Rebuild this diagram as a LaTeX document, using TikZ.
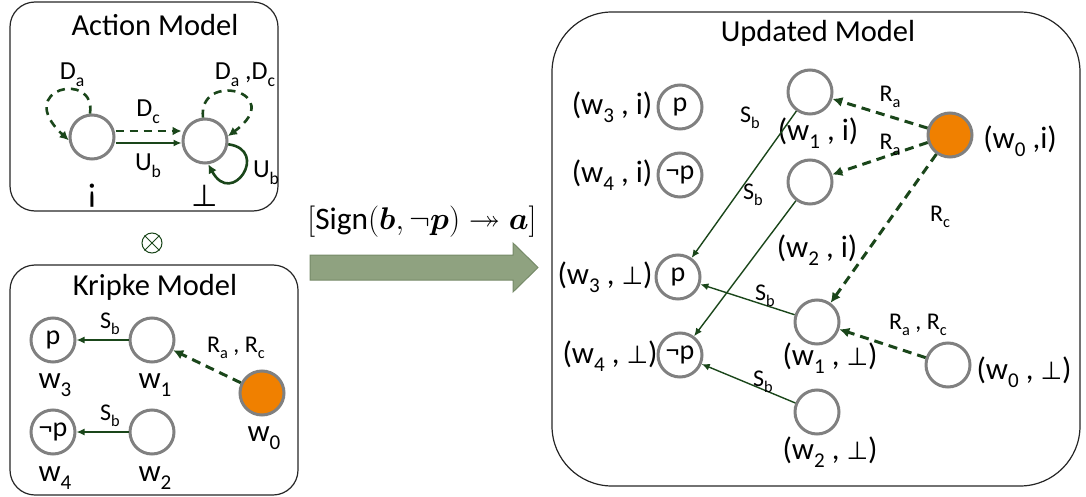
\documentclass[tikz,border=0pt]{standalone}
\usepackage{fontspec}
\setmainfont{Carlito}
\newfontfamily\symfont{DejaVu Sans}
\usepackage{amssymb,bm}
\usetikzlibrary{arrows.meta}

\definecolor{edgegreen}{RGB}{26,70,26}
\definecolor{ringgray}{RGB}{128,128,128}
\definecolor{worldorange}{RGB}{240,128,0}
\definecolor{arrowfill}{RGB}{143,162,128}
\definecolor{arrowline}{RGB}{118,138,104}

% lowered, shrunk index as used in the world names
\newcommand\sub[1]{\raisebox{-0.27em}{\scalebox{0.68}{#1}}}
% falsum sign for the second action point
\newcommand\fls{{\symfont\fontsize{0.8em}{1em}\selectfont ⊥}}

\tikzset{
  world/.style={circle, draw=ringgray, line width=3pt, minimum size=44pt, inner sep=0pt,
                font=\fontsize{28}{28}\selectfont},
  actual/.style={world, fill=worldorange},
  lbl/.style={font=\fontsize{31}{31}\selectfont, inner sep=1pt},
  elbl/.style={font=\fontsize{24}{24}\selectfont, inner sep=1pt},
  albl/.style={font=\fontsize{26}{26}\selectfont, inner sep=1pt},
  title/.style={font=\fontsize{30.5}{30.5}\selectfont, inner sep=1pt},
  panel/.style={draw=black!85, line width=1.2pt},
  rel/.style={draw=edgegreen, line width=1.4pt, -{Latex[length=8pt,width=7pt]}},
  drel/.style={draw=edgegreen, line width=3pt, dash pattern=on 9pt off 6pt,
               -{Latex[length=10pt,width=10pt]}},
  dloop/.style={draw=edgegreen, line width=2.6pt, dash pattern=on 8pt off 6pt,
               -{Latex[length=9pt,width=9pt]}},
  sloop/.style={draw=edgegreen, line width=2.6pt, -{Latex[length=9pt,width=9pt]}},
}

\begin{document}
\begin{tikzpicture}[x=1pt,y=-1pt]
\useasboundingbox (0,0) rectangle (1086,497);

% ---------------- panels ----------------
\draw[panel, rounded corners=25pt] (10,2) rectangle (278,211);
\draw[panel, rounded corners=25pt] (10,265) rectangle (298,495);
\draw[panel, rounded corners=60pt] (552,12) rectangle (1080,486);

% ---------------- action model ----------------
\node[title] (tact) at (155,25) {Action Model};
\node[world] (ai) at (92,137) {};
\node[world] (ab) at (205,141) {};
\node[font=\fontsize{36}{36}\selectfont] (lai) at (92,196) {¡};
\node[font=\fontsize{38}{38}\selectfont] (lab) at (205,196) {\fls};

\draw[dloop] (ai.95) .. controls (97,70) and (12,88) .. (ai.188);
\node[albl] (lda) at (72,75) {D\sub{a}};
\draw[dloop] (ab.95) .. controls (198,70) and (288,92) .. (ab.12);
\node[albl] (ldadc) at (245,75) {D\sub{a} ,D\sub{c}};
\draw[sloop] (ab.-8) .. controls (270,150) and (232,208) .. (ab.-82);
\node[albl] (lub2) at (266,173) {U\sub{b}};

\draw[dloop] (ai.east |- 0,131) -- (ab.west |- 0,131);
\draw[rel] (ai.east |- 0,143) -- (ab.west |- 0,143);
\node[albl] (ldc) at (148,112) {D\sub{c}};
\node[albl] (lub) at (148,166) {U\sub{b}};

% ---------------- product sign ----------------
\node[circle, draw=edgegreen, line width=1pt, minimum size=20pt, inner sep=0pt] (ox) at (152,243) {};
\draw[edgegreen, line width=1pt] (ox.north west) -- (ox.south east);
\draw[edgegreen, line width=1pt] (ox.north east) -- (ox.south west);

% ---------------- kripke model ----------------
\node[title] (tkr) at (155,287) {Kripke Model};
\node[world] (k3) at (53,340) {p};
\node[world] (k1) at (152,340) {};
\node[actual] (k0) at (262,393) {};
\node[world] (k4) at (53,432) {¬p};
\node[world] (k2) at (152,432) {};
\node[lbl] (lk3) at (55,385) {w\sub{3}};
\node[lbl] (lk1) at (155,385) {w\sub{1}};
\node[lbl] (lk0) at (264,438) {w\sub{0}};
\node[lbl] (lk4) at (55,478) {w\sub{4}};
\node[lbl] (lk2) at (155,478) {w\sub{2}};

\draw[rel] (k1) -- (k3);
\node[elbl] (ls1) at (110,324) {S\sub{b}};
\draw[rel] (k2) -- (k4);
\node[elbl] (ls2) at (110,416) {S\sub{b}};
\draw[drel] (k0) -- (k1);
\node[elbl] (lrac) at (236,348) {R\sub{a} , R\sub{c}};

% ---------------- update arrow ----------------
\node[font=\fontsize{24.88}{25}\selectfont] (upd) at (422,222)
  {\scalebox{1.26}{$[\mathrm{Sign}(\bm{b},\neg\bm{p})\twoheadrightarrow\bm{a}]$}};
\draw[fill=arrowfill, draw=arrowline, line width=1pt]
  (310,255) -- (513,255) -- (513,243) -- (538,267.5) -- (513,292) -- (513,280) -- (310,280) -- cycle;

% ---------------- updated model ----------------
\node[title] (tup) at (818,33) {Updated Model};

\node[world] (u3i) at (680,107) {p};
\node[world] (u4i) at (680,175) {¬p};
\node[world] (u1i) at (810,92) {};
\node[world] (u2i) at (810,182) {};
\node[actual] (u0i) at (950,135) {};
\node[world] (u3b) at (678,277) {p};
\node[world] (u4b) at (680,355) {¬p};
\node[world] (u1b) at (817,322) {};
\node[world] (u2b) at (817,412) {};
\node[world] (u0b) at (948,365) {};

\node[lbl] (lu3i) at (612,107) {(w\sub{3} , i)};
\node[lbl] (lu4i) at (612,175) {(w\sub{4} , i)};
\node[lbl] (lu1i) at (818,133) {(w\sub{1} , i)};
\node[lbl] (lu2i) at (817,250) {(w\sub{2} , i)};
\node[lbl] (lu0i) at (1020,141) {(w\sub{0} ,i)};
\node[lbl] (lu3b) at (605,277) {(w\sub{3} , \fls)};
\node[lbl] (lu4b) at (610,356) {(w\sub{4} , \fls)};
\node[lbl] (lu1b) at (830,358) {(w\sub{1} , \fls)};
\node[lbl] (lu2b) at (830,452) {(w\sub{2} , \fls)};
\node[lbl] (lu0b) at (1024,372) {(w\sub{0} , \fls)};

\draw[rel] (u1i) -- (u3b);
\node[elbl] (lsa) at (750,118) {S\sub{b}};
\draw[rel] (u2i) -- (u4b);
\node[elbl] (lsb) at (753,195) {S\sub{b}};
\draw[rel] (u1b) -- (u3b);
\node[elbl] (lsc) at (765,296) {S\sub{b}};
\draw[rel] (u2b) -- (u4b);
\node[elbl] (lsd) at (763,382) {S\sub{b}};

\draw[drel] (u0i) -- (u1i);
\node[elbl] (lra1) at (890,97) {R\sub{a}};
\draw[drel] (u0i) -- (u2i);
\node[elbl] (lra2) at (890,145) {R\sub{a}};
\draw[drel] (u0i) -- (u1b);
\node[elbl] (lrc) at (940,217) {R\sub{c}};
\draw[drel] (u0b) -- (u1b);
\node[elbl] (lrac2) at (918,325) {R\sub{a} , R\sub{c}};
\end{tikzpicture}
\end{document}
